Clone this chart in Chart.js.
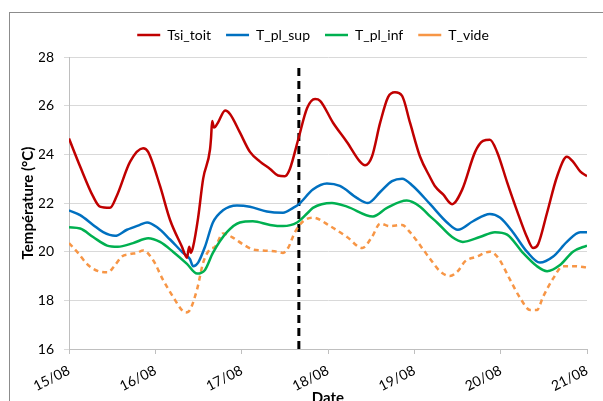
<!DOCTYPE html>
<html>
<head>
<meta charset="utf-8">
<script src="https://cdn.jsdelivr.net/npm/chart.js@4.4.1/dist/chart.umd.min.js"></script>
<style>
    body { margin:0; width:603px; height:401px; overflow:hidden; background:#fff; position:relative; }
    #frame { position:absolute; left:9px; top:12px; width:700px; height:500px; border:1px solid #8c8c8c; pointer-events:none; }
    #tempChart { position:absolute; left:0; top:0; }
</style>
</head>
<body>
<div id="frame"></div>
<canvas id="tempChart" width="603" height="420"></canvas>
<script>
// hours since 15/08 00:00
const dateLabels = ['15/08','16/08','17/08','18/08','19/08','20/08','21/08'];

const toitHours = [0,3.1,6.7,8.6,11.4,13.3,17.0,20.6,22.0,25.3,28.1,31.4,32.8,33.4,33.9,34.5,35.9,37.3,39.2,39.5,39.8,40.3,41.4,43.4,44.8,47.5,50.3,53.1,55.9,58.1,60.0,61.4,63.7,66.2,68.4,69.8,73.4,77.3,80.9,82.3,84.2,86.5,88.7,90.6,92.6,94.8,97.6,100.4,101.7,104.0,106.5,109.3,112.9,115.1,117.0,119.0,121.8,124.5,127.3,129.0,130.4,132.9,135.7,138.4,140.1,142.1,144];
const toitTemp  = [24.65,23.5,22.27,21.85,21.8,22.3,23.7,24.25,24.1,22.7,21.3,20.2,19.75,20.2,19.95,20.2,21.4,23.0,24.2,24.7,25.37,25.1,25.3,25.8,25.65,24.9,24.1,23.7,23.4,23.13,23.1,23.4,24.6,25.9,26.27,26.2,25.3,24.5,23.7,23.55,23.9,25.3,26.35,26.55,26.4,25.3,23.9,23.05,22.7,22.35,21.95,22.55,24.1,24.55,24.6,24.1,22.85,21.7,20.6,20.15,20.3,21.6,23.1,23.9,23.7,23.3,23.1];

const supHours = [0,3.1,6.7,9.5,12.8,16.1,19.7,21.7,24.5,28.1,31.7,33.6,34.5,35.9,37.8,40.0,42.8,46.7,50.3,55.0,59.5,62.3,63.9,67.8,71.7,75.3,80.1,83.1,86.5,89.8,92.6,95.6,100.4,105.1,108.1,112.3,117.0,119.8,123.4,127.3,130.9,134.6,138.4,142.1,144];
const supTemp  = [21.7,21.5,21.1,20.8,20.65,20.9,21.1,21.2,21.0,20.5,19.95,19.7,19.4,19.55,20.2,21.2,21.7,21.9,21.85,21.65,21.6,21.8,21.95,22.55,22.8,22.7,22.2,22.0,22.45,22.9,23.0,22.7,21.95,21.2,20.9,21.25,21.55,21.4,20.8,20.0,19.55,19.8,20.4,20.8,20.8];

const infHours = [0,3.1,6.7,10.6,13.6,17.8,22.0,25.3,28.9,32.8,35.6,37.8,40.0,43.9,47.5,51.1,55.9,59.5,63.4,66.4,67.8,73.1,77.3,84.5,88.4,93.9,97.6,100.4,102.3,106.5,109.5,114.2,118.4,121.8,126.2,130.1,132.9,136.5,140.1,144];
const infTemp  = [21.0,20.95,20.6,20.25,20.2,20.35,20.55,20.4,20.0,19.5,19.1,19.25,19.95,20.8,21.2,21.25,21.1,21.05,21.2,21.6,21.8,22.0,21.85,21.45,21.8,22.1,21.85,21.45,21.2,20.6,20.4,20.6,20.8,20.7,19.95,19.4,19.2,19.45,20.0,20.25];

const videHours = [0,2.2,5.3,8.1,10.8,12.8,14.7,17.0,18.9,20.6,23.4,26.1,28.9,31.7,32.5,33.6,35.6,37.3,39.2,40.6,42.8,45.3,48.4,50.9,53.9,57.8,59.5,60.9,62.8,65.1,67.8,72.6,77.3,81.5,84.2,86.5,89.2,92.6,94.8,98.4,100.4,103.1,105.9,108.1,110.1,113.4,117.0,119.3,122.6,125.4,128.2,130.1,131.8,134.6,137.3,140.7,144];
const videTemp  = [20.35,20.0,19.45,19.2,19.15,19.45,19.8,19.9,19.95,20.05,19.65,18.85,18.15,17.55,17.5,17.6,18.45,19.55,20.1,20.2,20.75,20.6,20.3,20.1,20.05,20.0,19.95,20.15,20.8,21.25,21.4,21.05,20.6,20.15,20.6,21.15,21.05,21.1,20.8,20.1,19.7,19.2,19.0,19.2,19.6,19.8,20.0,19.75,18.85,18.1,17.6,17.6,18.15,18.9,19.4,19.4,19.35];

// vertical marker
const markerHours = [63.9, 63.9];
const markerTemp  = [16, 27.75];

const yTicks = [16, 18, 20, 22, 24, 26, 28];

const pts = (xs, ys) => xs.map((x, i) => ({x: x, y: ys[i]}));

function line(label, xs, ys, color, dash) {
    return {
        label: label, data: pts(xs, ys), borderColor: color, backgroundColor: color,
        borderWidth: 2.5, borderDash: dash || [], pointRadius: 0, fill: false,
        cubicInterpolationMode: 'monotone', tension: 0.4
    };
}

const font = "Lato, 'Open Sans', sans-serif";

// push chart area down a bit below the legend
const legendGap = {
    id: 'legendGap',
    beforeInit(chart) {
        const fit = chart.legend.fit;
        chart.legend.fit = function() { fit.bind(chart.legend)(); this.height += 5; };
    }
};

new Chart(document.getElementById('tempChart'), {
    type: 'line',
    data: {
        datasets: [
            line('Tsi_toit', toitHours, toitTemp, '#C00000'),
            line('T_pl_sup', supHours, supTemp, '#0070C0'),
            line('T_pl_inf', infHours, infTemp, '#00B050'),
            line('T_vide', videHours, videTemp, '#F79646', [5, 4]),
            { label: 'marker', data: pts(markerHours, markerTemp), borderColor: '#000', borderWidth: 3,
              borderDash: [8, 5], pointRadius: 0, tension: 0 }
        ]
    },
    options: {
        responsive: false,
        animation: false,
        devicePixelRatio: 1,
        layout: { padding: { left: 39, right: 16, top: 13, bottom: 0 } },
        plugins: {
            legend: {
                position: 'top',
                labels: {
                    usePointStyle: true, pointStyle: 'line', pointStyleWidth: 23,
                    padding: 15, color: '#000', font: { family: font, size: 14 },
                    filter: item => item.text !== 'marker'
                }
            },
            tooltip: { enabled: false }
        },
        scales: {
            x: {
                type: 'linear', min: 0, max: 144,
                afterFit: s => { s.height = 71; },
                afterBuildTicks: s => { s.ticks = dateLabels.map((d, i) => ({value: i * 24})); },
                ticks: {
                    callback: (v) => dateLabels[Math.round(v / 24)],
                    minRotation: 27, maxRotation: 27, padding: 8,
                    color: '#000', font: { family: font, size: 14 }
                },
                grid: { drawOnChartArea: false, tickLength: 5, color: '#bfbfbf' },
                border: { color: '#bfbfbf' },
                title: { display: true, text: 'Date', color: '#000',
                         font: { family: font, size: 15, weight: 'bold' }, padding: { top: 0, bottom: 13 } }
            },
            y: {
                min: 16, max: 28,
                afterFit: s => { s.width = 30; },
                afterBuildTicks: s => { s.ticks = yTicks.map(v => ({value: v})); },
                ticks: { padding: 10, color: '#000', font: { family: font, size: 14 } },
                grid: { color: '#d9d9d9', tickLength: 5 },
                border: { color: '#bfbfbf' },
                title: { display: true, text: 'Température (°C)', color: '#000',
                         font: { family: font, size: 15, weight: 'bold' }, padding: { top: -20, bottom: 0 } }
            }
        }
    },
    plugins: [legendGap]
});
</script>
</body>
</html>
